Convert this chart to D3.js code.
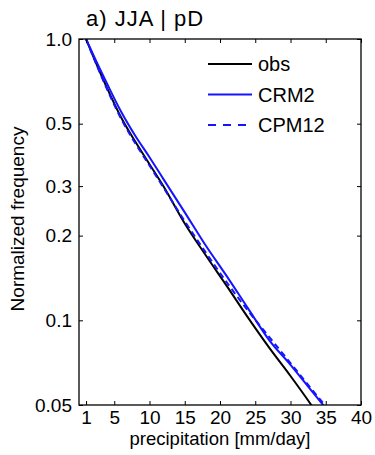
<!DOCTYPE html>
<html><head><meta charset="utf-8">
<script src="https://cdn.jsdelivr.net/npm/d3@7"></script>
<style>body{margin:0;background:#fff}svg{display:block}text{font-family:"Liberation Sans",Arial,sans-serif;fill:#000}</style>
</head><body><svg id="c" width="375" height="455"></svg>
<script>
const xTicks = [1,5,10,15,20,25,30,35,40];
const yTicks = [0.05,0.1,0.2,0.3,0.5,1.0];
const yTickLabels = ["0.05","0.1","0.2","0.3","0.5","1.0"];
const xValues = [1,2,4,6,8,10,12,15,18,21,24,27,30,33,35];
const obs   = [1,0.870,0.668,0.525,0.431,0.359,0.299,0.221,0.170,0.132,0.102,0.0798,0.0634,0.0498,0.042];
const crm2  = [1,0.881,0.692,0.550,0.452,0.380,0.317,0.242,0.184,0.143,0.110,0.0849,0.0695,0.0561,0.0487];
const cpm12 = [1,0.867,0.661,0.519,0.425,0.355,0.296,0.225,0.174,0.136,0.108,0.0871,0.0705,0.0569,0.0495];
const seriesNames = ["obs","CRM2","CPM12"];
const title = "a) JJA | pD";

const FONT = "Liberation Sans, Arial, sans-serif";
const svg = d3.select("#c");
const L=79,R=361,T=39,B=405;
const x = d3.scaleLinear().domain([0,40]).range([L,R]);
const y = d3.scaleLog().domain([0.05,1]).range([B,T]);

svg.append("defs").append("clipPath").attr("id","cp").append("rect")
  .attr("x",L).attr("y",T).attr("width",R-L).attr("height",B-T);

const series = [
  {name:seriesNames[0], v:obs, color:"#000", dash:null},
  {name:seriesNames[1], v:crm2, color:"#1414ff", dash:null},
  {name:seriesNames[2], v:cpm12, color:"#1414ff", dash:"6,4"}
];
const line = d3.line().x((d,i)=>x(xValues[i])).y(d=>y(d)).curve(d3.curveMonotoneX);
const g = svg.append("g").attr("clip-path","url(#cp)");
[series[0],series[2],series[1]].forEach(s=>{
  g.append("path").attr("d",line(s.v)).attr("fill","none")
   .attr("stroke",s.color).attr("stroke-width",2).attr("stroke-dasharray",s.dash);
});

// axes
const tl=4;
const fmtY=d=>yTickLabels[yTicks.indexOf(d)];
const ax = (gen, tr)=>{ const a=svg.append("g").attr("transform",tr).call(gen);
  a.select(".domain").remove(); a.selectAll("line").attr("stroke","#000").attr("stroke-width",1);
  return a;};
const bx = ax(d3.axisBottom(x).tickValues(xTicks).tickSizeInner(-tl).tickSizeOuter(0).tickPadding(6), `translate(0,${B})`);
bx.selectAll("text").attr("font-size",19).attr("font-family",FONT);
ax(d3.axisTop(x).tickValues(xTicks).tickSizeInner(-tl).tickSizeOuter(0).tickFormat(""), `translate(0,${T})`);
const ly = ax(d3.axisLeft(y).tickValues(yTicks).tickFormat(fmtY).tickSizeInner(-tl).tickSizeOuter(0).tickPadding(7), `translate(${L},0)`);
ly.selectAll("text").attr("font-size",19).attr("font-family",FONT);
ax(d3.axisRight(y).tickValues(yTicks).tickFormat("").tickSizeInner(-tl).tickSizeOuter(0), `translate(${R},0)`);
svg.append("rect").attr("x",L).attr("y",T).attr("width",R-L).attr("height",B-T)
  .attr("fill","none").attr("stroke","#000").attr("stroke-width",1.3);

// titles
svg.append("text").attr("x",86).attr("y",26).attr("font-size",22).attr("letter-spacing",1).text(title);
svg.append("text").attr("x",(L+R)/2).attr("y",445).attr("text-anchor","middle").attr("font-size",18.5).text("precipitation [mm/day]");
svg.append("text").attr("transform",`translate(23.5,${(T+B)/2-3}) rotate(-90)`).attr("text-anchor","middle").attr("font-size",19).text("Normalized frequency");

// legend
series.forEach((s,i)=>{
  const ly0 = 64 + i*30.5;
  svg.append("line").attr("x1",208).attr("x2",252).attr("y1",ly0).attr("y2",ly0)
    .attr("stroke",s.color).attr("stroke-width",2).attr("stroke-dasharray",s.dash?"8,7":null);
  svg.append("text").attr("x",258).attr("y",ly0+7).attr("font-size",20).text(s.name);
});
</script></body></html>
